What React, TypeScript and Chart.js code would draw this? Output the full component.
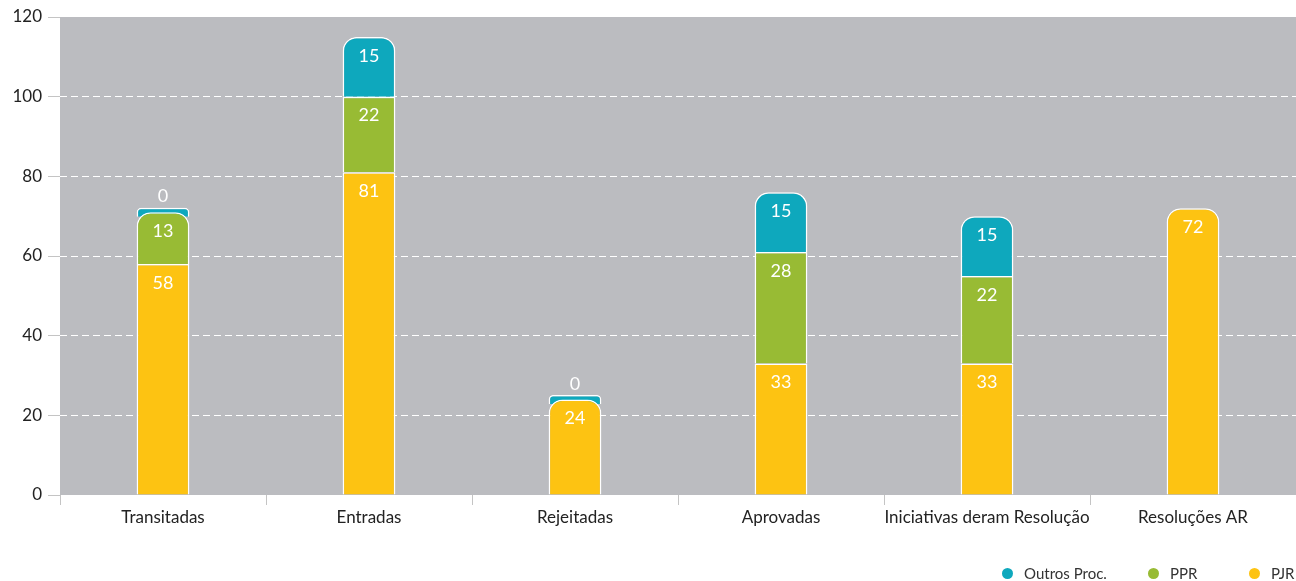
import React, { useEffect, useRef } from 'react';
import { Chart, registerables } from 'chart.js';

Chart.register(...registerables);

const categories = [
  'Transitadas',
  'Entradas',
  'Rejeitadas',
  'Aprovadas',
  'Iniciativas deram Resolução',
  'Resoluções AR',
];

// series values (bar heights as drawn)
const pjrValues = [58, 81, 24, 33, 33, 72];
const pprValues = [13, 19, null, 28, 22, null];
const outrosValues = [0, 15, 0, 15, 15, null];

// printed labels on each segment
const pjrLabels = ['58', '81', '24', '33', '33', '72'];
const pprLabels = ['13', '22', '', '28', '22', ''];
const outrosLabels = ['0', '15', '0', '15', '15', ''];

const seriesNames = ['PJR', 'PPR', 'Outros Proc.'];
const seriesColors = ['#fdc312', '#98bb34', '#0ea8bd'];

const yMin = 0;
const yMax = 120;
const yStep = 20;

const FONT = 'Lato, "Open Sans", sans-serif';
const PLOT_BG = '#bbbcc0';
const TICK_MARK = '#c4c4c4';

const valueSets = [pjrValues, pprValues, outrosValues];
const labelSets = [pjrLabels, pprLabels, outrosLabels];

function topIndex(i: number): number {
  let top = -1;
  for (let d = 0; d < valueSets.length; d++) {
    const v = valueSets[d][i];
    if (v != null && v > 0) top = d;
  }
  return top;
}

const bgPlugin = {
  id: 'plotBg',
  beforeDraw(chart: any) {
    const { ctx, chartArea } = chart;
    if (!chartArea) return;
    ctx.save();
    ctx.fillStyle = PLOT_BG;
    ctx.fillRect(chartArea.left, chartArea.top, chartArea.right - chartArea.left, chartArea.bottom - chartArea.top);
    ctx.restore();
  },
};

const labelPlugin = {
  id: 'segLabels',
  afterDatasetsDraw(chart: any) {
    const ctx = chart.ctx;
    ctx.save();
    ctx.font = `18px ${FONT}`;
    ctx.fillStyle = '#ffffff';
    ctx.textAlign = 'center';
    ctx.textBaseline = 'middle';
    chart.data.datasets.forEach((ds: any, di: number) => {
      const meta = chart.getDatasetMeta(di);
      meta.data.forEach((el: any, i: number) => {
        const v = ds.data[i];
        if (v == null) return;
        const text = labelSets[di][i];
        if (!text) return;
        const { x, y } = el.getProps(['x', 'y'], true);
        if (v === 0) ctx.fillText(text, x, y - 11);
        else ctx.fillText(text, x, y + 19);
      });
    });
    ctx.restore();
  },
};

export default function App() {
  const canvasRef = useRef<HTMLCanvasElement | null>(null);

  useEffect(() => {
    document.body.style.margin = '0';
    const canvas = canvasRef.current;
    if (!canvas) return;

    const radius = (ctx: any) => {
      const di = ctx.datasetIndex;
      const i = ctx.dataIndex;
      const v = valueSets[di][i];
      if (v === 0 || topIndex(i) === di) {
        return { topLeft: 14, topRight: 14, bottomLeft: 0, bottomRight: 0 };
      }
      return 0;
    };

    const chart = new Chart(canvas, {
      type: 'bar',
      data: {
        labels: categories,
        datasets: valueSets.map((vals, di) => ({
          label: seriesNames[di],
          data: vals,
          backgroundColor: seriesColors[di],
          borderColor: '#ffffff',
          borderWidth: 1.5,
          borderRadius: radius,
          minBarLength: 9,
          barPercentage: 0.256,
          categoryPercentage: 1,
        })),
      },
      plugins: [bgPlugin, labelPlugin],
      options: {
        responsive: true,
        maintainAspectRatio: false,
        animation: false,
        layout: { padding: { top: 17, right: 0, left: 0, bottom: 0 } },
        plugins: {
          legend: { display: false },
          tooltip: { enabled: false },
        },
        scales: {
          x: {
            stacked: true,
            grid: {
              display: true,
              drawOnChartArea: false,
              offset: true,
              tickLength: 10,
              color: TICK_MARK,
              tickColor: TICK_MARK,
            },
            border: { display: false },
            ticks: {
              color: '#222222',
              font: { family: FONT, size: 17 },
              padding: 2,
              autoSkip: false,
              maxRotation: 0,
            },
            afterFit: (s: any) => {
              s.height = 86;
            },
          },
          y: {
            stacked: true,
            min: yMin,
            max: yMax,
            ticks: {
              stepSize: yStep,
              color: '#222222',
              font: { family: FONT, size: 17 },
              padding: 6,
            },
            grid: {
              color: (c: any) =>
                c.tick && (c.tick.value === yMin || c.tick.value === yMax) ? 'rgba(0,0,0,0)' : '#ffffff',
              tickColor: TICK_MARK,
              tickLength: 12,
              lineWidth: 1,
              tickWidth: 1,
              tickBorderDash: [],
            },
            border: { display: false, dash: [7, 4] },
            afterFit: (s: any) => {
              s.width = 60;
            },
          },
        },
      },
    });
    return () => chart.destroy();
  }, []);

  const legendOrder = [2, 1, 0];
  const legendLefts = [1002, 1148, 1249];

  return (
    <div style={{ position: 'relative', width: 1296, height: 581, overflow: 'hidden', fontFamily: FONT }}>
      <div style={{ position: 'absolute', left: 0, top: 0, width: 1296, height: 581 }}>
        <canvas ref={canvasRef} />
      </div>
      {legendOrder.map((di, k) => (
        <div
          key={seriesNames[di]}
          style={{
            position: 'absolute',
            left: legendLefts[k],
            top: 564,
            height: 18,
            display: 'flex',
            alignItems: 'center',
            whiteSpace: 'nowrap',
            fontSize: 15,
            color: '#333333',
          }}
        >
          <span
            style={{
              display: 'inline-block',
              width: 11,
              height: 11,
              borderRadius: '50%',
              background: seriesColors[di],
              marginRight: 11,
            }}
          />
          <span>{seriesNames[di]}</span>
        </div>
      ))}
    </div>
  );
}
